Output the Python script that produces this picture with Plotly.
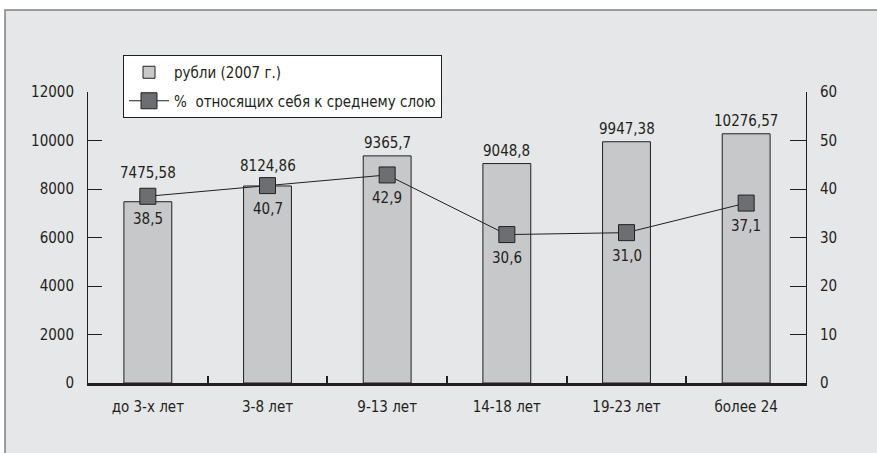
import plotly.graph_objects as go

categories = ["до 3-х лет", "3-8 лет", "9-13 лет", "14-18 лет", "19-23 лет", "более 24"]
rubles = [7475.58, 8124.86, 9365.7, 9048.8, 9947.38, 10276.57]
rubles_labels = ["7475,58", "8124,86", "9365,7", "9048,8", "9947,38", "10276,57"]
rubles_label_lift = [18, 9, 2, 2, 2, 2]
middle_pct = [38.5, 40.7, 42.9, 30.6, 31.0, 37.1]
middle_labels = ["38,5", "40,7", "42,9", "30,6", "31,0", "37,1"]
left_ticks = [0, 2000, 4000, 6000, 8000, 10000, 12000]
left_tick_text = ["0", "2000", "4000", "6000", "8000", "10000", "12000"]
right_ticks = [0, 10, 20, 30, 40, 50, 60]

FONT = "Liberation Sans Narrow, DejaVu Sans Condensed, Arial Narrow, sans-serif"
DARK = "#231f20"

fig = go.Figure()
fig.add_trace(go.Bar(
    x=categories, y=rubles, name="рубли (2007 г.)", legendgroup="bars",
    marker=dict(color="#c7c8ca", line=dict(color=DARK, width=1)),
    width=0.4,
))
fig.add_trace(go.Scatter(
    x=categories, y=middle_pct, name="%  относящих себя к среднему слою",
    legendgroup="line",
    yaxis="y2", mode="lines+markers",
    line=dict(color=DARK, width=1),
    marker=dict(symbol="square", size=16, color="#6d6e71", line=dict(color=DARK, width=1)),
    cliponaxis=False,
))

for cat, val, lab, lift in zip(categories, rubles, rubles_labels, rubles_label_lift):
    fig.add_annotation(x=cat, y=val, xref="x", yref="y", text=lab, showarrow=False,
                       yanchor="bottom", yshift=lift,
                       font=dict(size=15, color=DARK, family=FONT))

for cat, val, lab in zip(categories, middle_pct, middle_labels):
    fig.add_annotation(x=cat, y=val, xref="x", yref="y2", text=lab, showarrow=False,
                       yanchor="top", yshift=-12,
                       font=dict(size=15, color=DARK, family=FONT))

fig.add_shape(type="rect", xref="paper", yref="paper",
              x0=(5 - 88) / 718, x1=1.3, y0=-0.6, y1=(383 - 10) / 291,
              fillcolor="#e6e7e8", line=dict(color="#808080", width=1.5), layer="below")

fig.update_layout(
    width=877, height=453,
    margin=dict(l=88, r=71, t=92, b=70),
    paper_bgcolor="white", plot_bgcolor="rgba(0,0,0,0)",
    font=dict(family=FONT, size=15, color=DARK),
    showlegend=True,
    legend=dict(x=(123 - 88) / 718, y=(383 - 55) / 291, xanchor="left", yanchor="top",
                bgcolor="white", bordercolor=DARK, borderwidth=1, itemwidth=40,
                font=dict(size=15, family=FONT, color=DARK), tracegroupgap=6),
    xaxis=dict(showgrid=False, showline=True, linecolor=DARK, linewidth=2.5,
               ticks="inside", ticklen=7, tickwidth=2, tickcolor=DARK,
               tickson="boundaries", ticklabelstandoff=8, zeroline=False),
    yaxis=dict(range=[0, 12000], tickvals=left_ticks, ticktext=left_tick_text,
               showgrid=False, zeroline=False,
               showline=True, linecolor=DARK, linewidth=1,
               ticks="inside", ticklen=14, tickwidth=1, tickcolor=DARK,
               ticklabelstandoff=10),
    yaxis2=dict(range=[0, 60], tickvals=right_ticks, overlaying="y", side="right",
                showgrid=False, zeroline=False, showline=True, linecolor=DARK, linewidth=1,
                ticks="inside", ticklen=16, tickwidth=1, tickcolor=DARK,
                ticklabelstandoff=10),
)

fig.write_html("out.html", config={"displayModeBar": False},
               post_script="document.body.style.margin='0';document.body.style.overflow='hidden';")
